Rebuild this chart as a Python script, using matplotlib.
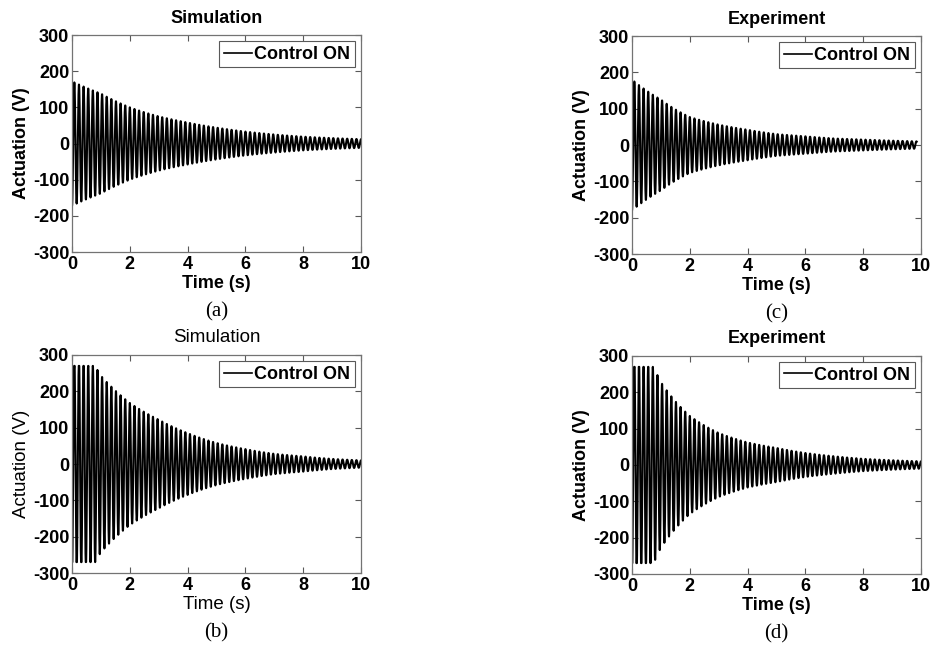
import numpy as np
import matplotlib
matplotlib.use("Agg")
import matplotlib.pyplot as plt

# Values: envelope of the actuation voltage (V) at knot times (s)
sim_a_knots = [0, 1, 2, 3, 4, 5, 6, 7, 8, 9, 10]
sim_a_env = [172, 138, 100, 75, 58, 44, 33, 25, 19, 15, 12]

exp_c_knots = [0, 1, 2, 3, 4, 5, 6, 7, 8, 9, 9.85]
exp_c_env = [180, 125, 77, 56, 42, 30, 24, 18, 15, 12, 10]

sim_b_knots = [0, 0.8, 1, 2, 3, 4, 5, 6, 7, 8, 9, 10]
sim_b_env = [300, 270, 243, 168, 122, 85, 58, 41, 28, 21, 14, 10]

exp_d_knots = [0, 0.75, 1, 2, 3, 4, 5, 6, 7, 8, 9, 10]
exp_d_env = [300, 270, 228, 135, 88, 62, 47, 33, 24, 17, 13, 10]

freq_hz = 6.25          # oscillation frequency counted from the picture
sat_limit = 270         # actuator saturation (V)

panels = [
    # knots, env, title, bold, tag, position
    (sim_a_knots, sim_a_env, "Simulation", True, "(a)", [0.0772, 0.6129, 0.3098, 0.3333]),
    (exp_c_knots, exp_c_env, "Experiment", True, "(c)", [0.6774, 0.6098, 0.3098, 0.3349]),
    (sim_b_knots, sim_b_env, "Simulation", False, "(b)", [0.0772, 0.1198, 0.3098, 0.3349]),
    (exp_d_knots, exp_d_env, "Experiment", True, "(d)", [0.6774, 0.1183, 0.3098, 0.3349]),
]

plt.rcParams["font.family"] = ["Liberation Sans", "DejaVu Sans"]
plt.rcParams["axes.unicode_minus"] = False

fig = plt.figure(figsize=(9.33, 6.51), dpi=100)

for knots, env, title, bold, tag, pos in panels:
    ax = fig.add_axes(pos)
    t = np.linspace(0, knots[-1], 30000)
    amp = np.exp(np.interp(t, knots, np.log(env)))
    v = np.clip(-amp * np.cos(2 * np.pi * freq_hz * t), -sat_limit, sat_limit)
    ax.plot(t, v, color="black", lw=1.5, label="Control ON")

    w = "bold" if bold else "normal"
    fs = 13 if bold else 13.5
    ax.set_xlim(0, 10)
    ax.set_ylim(-300, 300)
    ax.set_xticks(range(0, 11, 2))
    ax.set_yticks(range(-300, 301, 100))
    ax.tick_params(axis="x", pad=3)
    ax.tick_params(direction="in", top=True, right=True, length=4, width=0.8,
                   colors="0.35", labelcolor="black", labelsize=13)
    ax.tick_params(axis="y", pad=2)
    for lab in ax.get_xticklabels() + ax.get_yticklabels():
        lab.set_fontweight("bold")
    for s in ax.spines.values():
        s.set_color("0.45")
        s.set_linewidth(0.9)
    ax.set_title(title, fontsize=fs, fontweight=w, pad=9)
    ax.set_xlabel("Time (s)", fontsize=fs, fontweight=w, labelpad=1)
    ax.set_ylabel("Actuation (V)", fontsize=fs, fontweight=w, labelpad=2)
    leg = ax.legend(loc="upper right", fontsize=13, handlelength=1.6, handletextpad=0.1,
                    borderpad=0.25, borderaxespad=0.35, fancybox=False, framealpha=1)
    leg.get_frame().set_edgecolor("0.35")
    leg.get_frame().set_linewidth(0.8)
    leg.get_lines()[0].set_linewidth(1.2)
    for txt in leg.get_texts():
        txt.set_fontweight("bold")

    cx = pos[0] + pos[2] / 2
    fig.text(cx, pos[1] - 0.092, tag, ha="center", va="center",
             fontsize=15, family="Liberation Serif")

fig.savefig("out.png", dpi=100)
